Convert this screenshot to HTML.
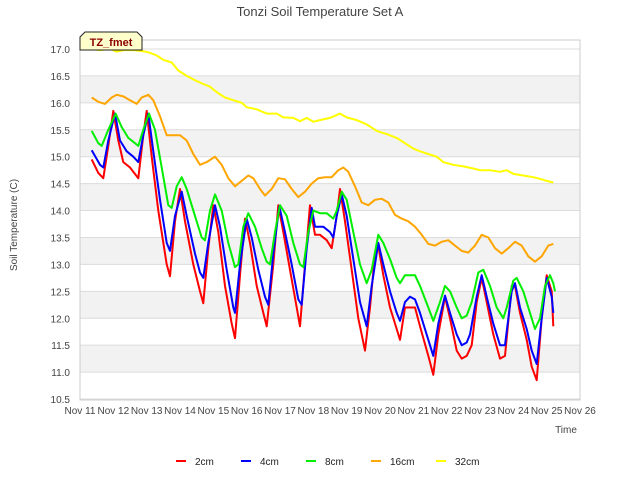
<!DOCTYPE html>
<html><head><meta charset="utf-8"><style>
body{margin:0;background:#fff;font-family:"Liberation Sans",sans-serif}
svg text{font-family:"Liberation Sans",sans-serif}
</style></head><body>
<svg id="c" width="640" height="480" xmlns="http://www.w3.org/2000/svg">
<text x="320" y="16" text-anchor="middle" font-size="13" fill="#444">Tonzi Soil Temperature Set A</text>
<g id="bands"></g><g id="grid"></g><g id="series"></g><g id="axes"></g>
<text x="17" y="225" transform="rotate(-90 17 225)" text-anchor="middle" font-size="10" fill="#444">Soil Temperature (C)</text>
<text x="566" y="433" text-anchor="middle" font-size="10" fill="#444">Time</text>
<g>
<path d="M80,50 L80,37 L85,32 L137,32 L142,37 L142,50 Z" fill="#ffffcc" stroke="#222" stroke-width="1"/>
<text x="111" y="46" text-anchor="middle" font-size="11" font-weight="bold" fill="#8b0000">TZ_fmet</text>
</g>
<g id="legend"></g>
</svg>
<script>
const yTicks=[10.5,11,11.5,12,12.5,13,13.5,14,14.5,15,15.5,16,16.5,17];
const xTickDays=[11,12,13,14,15,16,17,18,19,20,21,22,23,24,25,26];
const xTickLabels=["Nov 11","Nov 12","Nov 13","Nov 14","Nov 15","Nov 16","Nov 17","Nov 18","Nov 19","Nov 20","Nov 21","Nov 22","Nov 23","Nov 24","Nov 25","Nov 26"];
const seriesNames=["2cm","4cm","8cm","16cm","32cm"];
const seriesColors=["#ff0000","#0000ff","#00ee00","#ffa500","#ffff00"];
const t2=[11.35,11.55,11.7,11.85,12.0,12.15,12.3,12.5,12.75,12.9,13.0,13.15,13.35,13.6,13.7,13.85,14.0,14.15,14.4,14.6,14.7,14.85,15.0,15.15,15.35,15.55,15.65,15.8,15.95,16.1,16.3,16.5,16.6,16.8,16.95,17.1,17.3,17.5,17.6,17.75,17.9,18.05,18.2,18.4,18.55,18.7,18.8,18.95,19.15,19.35,19.55,19.7,19.85,19.95,20.1,20.3,20.5,20.6,20.75,20.9,21.05,21.2,21.45,21.6,21.75,21.95,22.1,22.3,22.45,22.6,22.75,22.9,23.05,23.2,23.4,23.6,23.75,23.95,24.05,24.2,24.4,24.55,24.7,24.85,25.0,25.15,25.2];
const v2=[14.95,14.7,14.6,15.2,15.85,15.3,14.9,14.8,14.6,15.4,15.85,15.0,14.0,13.0,12.78,13.8,14.4,13.8,13.0,12.5,12.28,13.3,14.1,13.6,12.6,11.9,11.63,12.8,13.85,13.4,12.6,12.1,11.85,13.0,14.1,13.6,12.9,12.2,11.85,13.0,14.1,13.55,13.55,13.45,13.3,13.9,14.4,13.8,12.9,12.0,11.4,12.2,13.2,13.35,12.8,12.2,11.8,11.6,12.2,12.2,12.2,11.85,11.3,10.95,11.7,12.4,12.0,11.4,11.25,11.3,11.5,12.3,12.75,12.3,11.7,11.25,11.3,12.6,12.6,12.1,11.6,11.1,10.85,12.0,12.8,12.5,11.85];
const t4=[11.35,11.6,11.7,11.85,12.05,12.2,12.4,12.6,12.75,12.9,13.05,13.2,13.4,13.6,13.7,13.85,14.05,14.2,14.45,14.6,14.7,14.85,15.05,15.2,15.4,15.6,15.65,15.8,16.0,16.15,16.35,16.55,16.65,16.8,16.98,17.15,17.35,17.55,17.65,17.8,17.95,18.05,18.3,18.5,18.6,18.7,18.85,19.0,19.2,19.4,19.6,19.75,19.95,20.1,20.3,20.5,20.6,20.75,20.9,21.05,21.2,21.45,21.6,21.75,21.95,22.1,22.3,22.45,22.6,22.7,22.9,23.05,23.2,23.4,23.6,23.75,23.95,24.05,24.2,24.4,24.55,24.7,24.85,25.0,25.15,25.2];
const v4=[15.12,14.85,14.8,15.3,15.8,15.3,15.1,15.0,14.9,15.4,15.8,15.1,14.2,13.4,13.25,13.9,14.35,13.9,13.2,12.85,12.75,13.4,14.1,13.7,12.9,12.2,12.1,13.0,13.85,13.5,12.9,12.4,12.25,13.2,14.08,13.6,13.0,12.35,12.25,13.3,14.05,13.7,13.7,13.6,13.5,13.9,14.3,13.9,13.1,12.3,11.85,12.6,13.4,13.0,12.5,12.1,11.95,12.3,12.4,12.35,12.1,11.6,11.3,11.9,12.42,12.1,11.7,11.5,11.55,11.7,12.4,12.8,12.4,11.9,11.5,11.5,12.5,12.65,12.2,11.8,11.4,11.15,12.0,12.75,12.4,12.1];
const t8=[11.35,11.55,11.65,11.85,12.07,12.25,12.45,12.65,12.75,12.9,13.07,13.25,13.45,13.65,13.75,13.9,14.05,14.2,14.45,14.65,14.75,14.9,15.05,15.25,15.45,15.65,15.75,15.9,16.05,16.25,16.45,16.6,16.7,16.85,17.0,17.2,17.4,17.6,17.7,17.85,18.0,18.2,18.4,18.6,18.7,18.85,19.0,19.2,19.4,19.6,19.75,19.95,20.1,20.3,20.5,20.6,20.75,20.9,21.05,21.2,21.45,21.6,21.8,21.95,22.1,22.3,22.45,22.6,22.75,22.95,23.1,23.3,23.5,23.7,23.8,24.0,24.1,24.3,24.5,24.65,24.8,24.95,25.1,25.2,25.25];
const v8=[15.48,15.25,15.2,15.5,15.8,15.55,15.35,15.25,15.2,15.5,15.8,15.5,14.8,14.1,14.05,14.45,14.62,14.4,13.9,13.5,13.45,14.0,14.3,14.0,13.4,12.95,13.0,13.7,13.95,13.7,13.3,13.05,13.0,13.6,14.1,13.9,13.4,13.0,12.95,13.6,14.0,13.95,13.95,13.85,14.0,14.35,14.2,13.6,13.0,12.65,12.9,13.55,13.4,13.1,12.75,12.65,12.8,12.8,12.8,12.6,12.2,11.95,12.3,12.6,12.5,12.2,12.0,12.05,12.3,12.85,12.9,12.6,12.2,12.0,12.2,12.7,12.75,12.5,12.1,11.8,12.0,12.6,12.8,12.65,12.5];
const t16=[11.35,11.55,11.75,11.95,12.1,12.3,12.5,12.7,12.85,13.05,13.2,13.4,13.6,13.8,14.0,14.2,14.4,14.6,14.8,15.05,15.25,15.45,15.65,15.85,16.05,16.2,16.4,16.55,16.75,16.95,17.15,17.35,17.55,17.75,17.95,18.15,18.35,18.55,18.75,18.9,19.05,19.25,19.45,19.65,19.85,20.05,20.25,20.45,20.65,20.85,21.05,21.25,21.45,21.65,21.85,22.05,22.25,22.45,22.65,22.85,23.05,23.25,23.45,23.65,23.85,24.05,24.25,24.45,24.65,24.85,25.05,25.2];
const v16=[16.1,16.02,15.98,16.1,16.15,16.12,16.05,15.98,16.1,16.15,16.05,15.75,15.4,15.4,15.4,15.3,15.05,14.85,14.9,15.0,14.85,14.6,14.45,14.55,14.65,14.6,14.4,14.28,14.4,14.6,14.58,14.4,14.25,14.35,14.5,14.6,14.62,14.62,14.75,14.8,14.72,14.45,14.15,14.1,14.2,14.22,14.15,13.92,13.85,13.8,13.7,13.55,13.38,13.35,13.42,13.45,13.35,13.25,13.22,13.35,13.55,13.5,13.3,13.2,13.3,13.42,13.35,13.15,13.05,13.15,13.35,13.38];
const t32=[11.35,11.6,11.9,12.1,12.3,12.6,12.9,13.1,13.3,13.5,13.75,13.95,14.2,14.45,14.7,14.9,15.1,15.35,15.6,15.85,16.0,16.3,16.6,16.9,17.1,17.4,17.6,17.8,18.0,18.2,18.5,18.8,19.0,19.3,19.6,19.9,20.2,20.5,20.75,21.0,21.2,21.45,21.7,21.9,22.2,22.5,22.8,23.0,23.3,23.6,23.8,24.0,24.3,24.6,24.85,25.0,25.2];
const v32=[17.0,16.98,17.0,16.95,16.98,16.98,16.96,16.93,16.88,16.8,16.75,16.6,16.5,16.42,16.35,16.3,16.2,16.1,16.05,16.0,15.92,15.88,15.8,15.8,15.73,15.72,15.66,15.72,15.65,15.68,15.72,15.8,15.73,15.68,15.6,15.48,15.42,15.35,15.25,15.15,15.1,15.05,15.0,14.9,14.85,14.82,14.78,14.75,14.75,14.72,14.75,14.68,14.65,14.62,14.58,14.55,14.52];

const L=80,R=580,T=40,B=400;
const x=d=>L+(d-11)*(R-L)/15;
const y=v=>49+(17-v)*53.85;
const NS="http://www.w3.org/2000/svg";
function mk(tag,attrs,parent){const e=document.createElementNS(NS,tag);for(const k in attrs)e.setAttribute(k,attrs[k]);document.getElementById(parent).appendChild(e);return e;}
// bands
for(let v=11;v<17;v+=1){const b=mk('rect',{x:L,y:y(v+0.5),width:R-L,height:y(v)-y(v+0.5),fill:'#f2f2f2'},'bands');

}
yTicks.forEach(v=>{const l=mk('line',{x1:L,x2:R,y1:y(v),y2:y(v),stroke:'#dcdcdc','stroke-width':1},'grid');


const t=mk('text',{x:L-10,y:y(v)+4,'text-anchor':'end','font-size':10,fill:'#444'},'axes');t.textContent=v.toFixed(1);

});
const fr=mk('rect',{x:L,y:T,width:R-L,height:B-T,fill:'none',stroke:'#ccc'},'axes');


xTickDays.forEach((d,i)=>{const t=mk('text',{x:x(d),y:414,'text-anchor':'middle','font-size':10,fill:'#444'},'axes');t.textContent=xTickLabels[i];

});
const ts=[t2,t4,t8,t16,t32],vs=[v2,v4,v8,v16,v32];
ts.forEach((tt,i)=>{const pts=tt.map((d,j)=>x(d).toFixed(1)+','+y(vs[i][j]).toFixed(1)).join(' ');
const p=mk('polyline',{points:pts,fill:'none',stroke:seriesColors[i],'stroke-width':2,'stroke-linejoin':'round'},'series');

});
const lx=[176,241,306,371,436];
seriesNames.forEach((n,i)=>{const g=mk('g',{},'legend');


const l=document.createElementNS(NS,'line');l.setAttribute('x1',lx[i]);l.setAttribute('x2',lx[i]+10);l.setAttribute('y1',461);l.setAttribute('y2',461);l.setAttribute('stroke',seriesColors[i]);l.setAttribute('stroke-width',2);g.appendChild(l);
const t=document.createElementNS(NS,'text');t.setAttribute('x',lx[i]+19);t.setAttribute('y',465);t.setAttribute('font-size',10);t.setAttribute('fill','#222');t.textContent=n;g.appendChild(t);});
</script>
</body></html>
